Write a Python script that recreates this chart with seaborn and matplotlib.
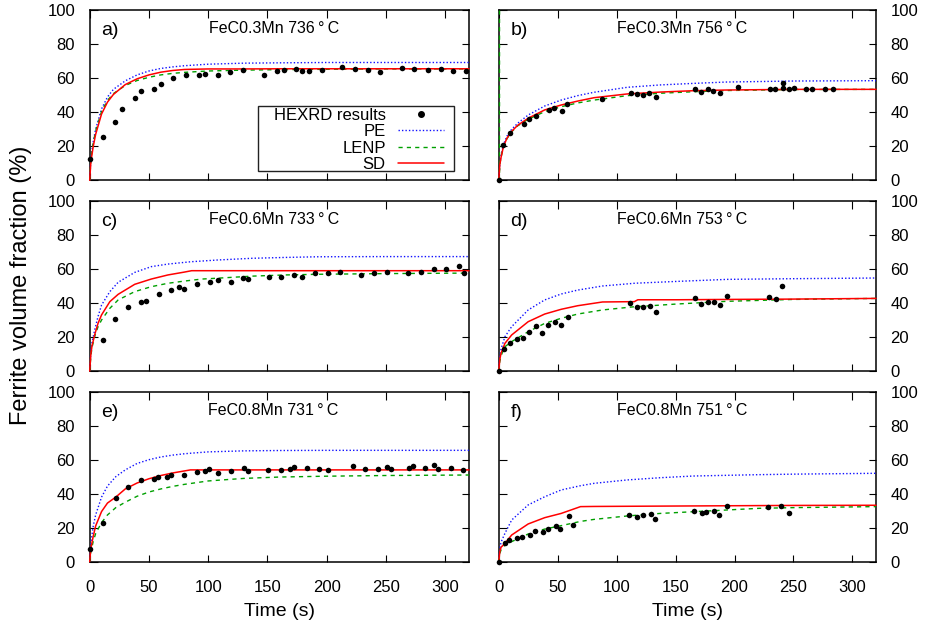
import numpy as np
import pandas as pd
import matplotlib
matplotlib.use("Agg")
import matplotlib.pyplot as plt
import seaborn as sns
from matplotlib.lines import Line2D
from matplotlib.patches import Rectangle

# ---------------- data ----------------
panel_labels = ["a)", "b)", "c)", "d)", "e)", "f)"]
panel_titles = ["FeC0.3Mn 736\u2009°\u2009C", "FeC0.3Mn 756\u2009°\u2009C",
                "FeC0.6Mn 733\u2009°\u2009C", "FeC0.6Mn 753\u2009°\u2009C",
                "FeC0.8Mn 731\u2009°\u2009C", "FeC0.8Mn 751\u2009°\u2009C"]
series_names = ["HEXRD results", "PE", "LENP", "SD"]
x_ticks = [0, 50, 100, 150, 200, 250, 300]
y_ticks = [0, 20, 40, 60, 80, 100]

# HEXRD measured points
a_t = [0, 11, 21.6, 27.5, 38.2, 43.3, 54, 60.1, 70.5, 81.2, 92.2, 97.2, 107.9, 118.6, 129.5, 147,
       157.7, 163.6, 174, 179.3, 184.9, 195.6, 213, 223.7, 234.4, 245, 263.6, 273.7, 285.5, 296.2,
       306.9, 317.3]
a_v = [12.5, 25.5, 34.1, 41.8, 48.2, 52.5, 53.5, 56.8, 60, 61.8, 62, 62.3, 62.1, 63.9, 64.7, 62.1,
       64.5, 64.9, 65.5, 64.3, 64.5, 64.7, 66.5, 65.3, 65.1, 63.9, 66.1, 65.7, 65.1, 65.3, 64.2, 64.4]
b_t = [0, 3.9, 9.8, 21.1, 25.3, 32, 42.7, 47.2, 53.4, 58.2, 87.4, 112.1, 116.9, 122.8, 127.6, 133.7,
       166.4, 171.2, 177.3, 181.5, 188, 202.6, 229.9, 234.4, 240.8, 240.8, 246.5, 250.7, 261, 266.1,
       276.6, 283.6]
b_v = [0, 20.9, 28, 33.3, 36.2, 38, 41.4, 42.7, 40.8, 44.7, 47.8, 51.5, 50.6, 50.4, 51.2, 49.2,
       53.5, 51.9, 53.5, 52.3, 51.4, 54.7, 53.5, 53.7, 57.4, 54.5, 53.5, 54.5, 53.5, 53.7, 53.5, 53.5]
c_t = [11, 21.6, 32.3, 43.3, 47.2, 58.2, 68.8, 75.6, 79.8, 90.8, 101.4, 108.2, 118.9, 129.5, 133.7,
       150.9, 161.6, 172.5, 179.3, 190, 200.7, 211.3, 228.8, 239.5, 250.4, 268.4, 279.6, 290.3, 301,
       311.6, 315.9]
c_v = [18.2, 30.4, 37.6, 40.8, 40.9, 45.5, 47.8, 49.6, 48, 51.4, 52.2, 53.5, 52.4, 54.7, 54.3,
       55.3, 55.5, 56.7, 55.1, 57.5, 57.9, 58.2, 56.5, 57.5, 58.2, 57.8, 58.1, 59.8, 59.8, 61.6, 57.6]
d_t = [0, 4.5, 9.5, 15.2, 20.2, 25.8, 31.5, 37.1, 42.2, 47.7, 53.1, 58.7, 111.6, 117.5, 122.5, 128.2,
       133.2, 166.1, 172, 177.1, 182.4, 187.7, 193.3, 229.6, 235.2, 240.6]
d_v = [0, 12.7, 16.5, 19, 19.2, 23, 26.7, 22.6, 27.1, 28.6, 27.1, 31.6, 40.2, 37.6, 37.6, 38,
       34.9, 42.7, 39.4, 40.8, 40.4, 38.6, 44.1, 43.5, 42.5, 50]
e_t = [0, 11.5, 21.9, 32.6, 43.5, 54.2, 57.9, 64.9, 68.5, 79.3, 90.2, 97.2, 100.9, 108.5, 119.1,
       129.8, 133.5, 150.6, 161.3, 168.9, 172.3, 183, 193.6, 201.2, 221.8, 232.4, 243.1, 250.7,
       254.3, 269.2, 272.6, 283.3, 290.6, 294, 304.9, 315.3]
e_v = [7.5, 22.9, 37.6, 44, 47.9, 48.8, 50, 50, 50.8, 51.2, 52.9, 53.1, 54.3, 52.4, 53.1,
       55.3, 53.5, 53.9, 53.9, 54.5, 55.5, 55.3, 54.5, 53.9, 56.1, 54.7, 54.3, 55.5,
       54.3, 55.1, 56.4, 55, 57, 54.4, 55, 54.2]
f_t = [0, 5.3, 9, 15.4, 19.6, 26.7, 30.6, 37.6, 41.8, 48.3, 52.3, 59.3, 63.2, 110.7, 117.7, 122.3,
       129, 132.6, 165.5, 172.5, 176.2, 183, 186.8, 193.9, 228.8, 239.2, 246.5]
f_v = [0, 10.8, 12.8, 14.1, 14.3, 15.5, 18.1, 17.6, 19.2, 21, 19.2, 27.1, 21.6, 27.5, 26.5, 27.6,
       28.1, 25.3, 29.8, 28.6, 29, 30, 27.5, 32.9, 32.2, 32.9, 28.6]

# Model curves (time grid per panel, then PE / LENP / SD values)
a_grid = [0, 1, 3, 5, 10, 15, 20, 30, 40, 50, 60, 70, 80, 100, 130, 160, 200, 250, 320]
a_pe = [0, 13, 23, 30, 42, 49, 53.5, 58.5, 62, 64.3, 65.8, 66.7, 67.4, 68.3, 68.9, 69.1, 69.3, 69.3, 69.3]
a_lenp = [0, 12.5, 22, 29, 40.5, 47, 51, 55.8, 58.7, 60.6, 62, 62.9, 63.5, 64.3, 64.8, 65.1, 65.3, 65.5, 65.5]
a_sd = [0, 11, 20, 27, 39, 46, 50.5, 56.3, 59.7, 62, 63.6, 64.6, 65.2, 65.5, 65.5, 65.6, 65.6, 65.6, 65.6]

b_grid = [0, 1, 2, 4, 7, 11, 16, 25, 39, 53, 67, 81, 109, 137, 165, 193, 250, 320]
b_pe = [0, 10, 14.5, 21, 26, 30, 33.5, 38.4, 43.7, 47.2, 49.8, 51.8, 54.7, 56.1, 57.0, 57.8, 58.4, 58.6]
b_lenp = [0, 9.5, 13.5, 19.5, 24.5, 28.5, 32, 35.9, 40.4, 43.3, 45.5, 47.2, 49.8, 51.2, 52.1, 52.8, 53.4, 53.5]
b_sd = [0, 9.5, 13.5, 19.8, 24.8, 28.8, 32.3, 36.5, 41.4, 44.3, 46.6, 48.6, 50.8, 51.9, 52.7, 53.1, 53.5, 53.5]
b_lenp_lead_t = [0]
b_lenp_lead_v = [100]

c_grid = [0, 1, 2, 4.5, 7, 10, 17, 24, 38, 52, 66, 80, 86, 95, 108, 137, 165, 193, 250, 320]
c_pe = [0, 12, 17, 25, 32, 38.8, 46.7, 52.2, 58, 61.4, 62.9, 63.9, 64.3, 64.7, 65.3, 66.3, 66.8, 67.2, 67.3, 67.3]
c_lenp = [0, 9, 14, 21, 26, 30, 36.9, 41.8, 46.7, 49.6, 51.6, 52.9, 53.4, 54.1, 54.6, 55.8, 56.5, 56.9, 57.3, 57.6]
c_sd = [0, 10, 15, 22, 28, 33, 40.8, 45.1, 51, 54.1, 56.5, 58.2, 59, 59, 59, 59, 59, 59, 59, 59]

d_grid = [0, 1, 2, 5.3, 11, 25, 39, 53, 67, 88, 115, 118, 151, 194, 250, 320]
d_pe = [0, 9, 13, 20.2, 26.1, 35.9, 41.8, 45.3, 47.6, 50, 51.6, 51.7, 52.7, 53.9, 54.3, 54.7]
d_lenp = [0, 6, 9, 14.3, 17.3, 23.1, 28, 31, 33.5, 35.9, 37.8, 37.9, 39.4, 41, 42.1, 42.7]
d_sd = [0, 7, 10.5, 16.3, 21.2, 29, 33.5, 36.3, 38.4, 40.6, 40.8, 41.9, 41.9, 42.1, 42.3, 42.7]

e_grid = [0, 1, 3, 5, 10, 15, 22, 30, 40, 50, 60, 70, 80, 85, 100, 130, 160, 200, 250, 320]
e_pe = [0, 11, 21, 27.5, 38, 44.5, 50, 54, 57.8, 60, 61.6, 62.7, 63.5, 63.8, 64.6, 65.2, 65.4, 65.5, 65.5, 65.5]
e_lenp = [0, 6, 12, 16.5, 23, 27.5, 31.8, 35, 38.5, 41, 42.8, 44.3, 45.5, 46, 47.5, 49, 49.8, 50.3, 50.7, 51]
e_sd = [0, 8, 15, 21, 29.5, 34.5, 38, 42.8, 46.3, 48.8, 50.7, 52.2, 53.4, 54, 54, 54, 54, 54, 54, 54]

f_grid = [0, 1, 2, 5.3, 11, 25, 39, 53, 69.4, 81, 109, 137, 165, 221, 250, 320]
f_pe = [0, 8, 11.5, 16.7, 24.5, 33.4, 38.2, 42.2, 44.7, 46.1, 48.1, 49.4, 50.4, 51.2, 51.5, 52]
f_lenp = [0, 5, 7, 9.8, 11.8, 16.3, 19.2, 21.2, 23.7, 24.9, 26.9, 28.4, 29.4, 31.4, 31.8, 32.4]
f_sd = [0, 6, 8.5, 10.8, 15.7, 22.2, 25.9, 28.4, 32.4, 32.5, 32.6, 32.7, 32.8, 33, 33.1, 33.2]

# ---------------- style ----------------
sns.set_style("ticks")
plt.rcParams["font.family"] = ["Liberation Sans", "DejaVu Sans"]
for k in ["text.color", "axes.labelcolor", "xtick.color", "ytick.color", "axes.edgecolor"]:
    plt.rcParams[k] = "black"

PE_KW = dict(color="#1010ff", lw=1.0, linestyle=(0, (1, 1.5)))
LENP_KW = dict(color="#00a000", lw=1.0, linestyle=(0, (3, 3)))
SD_KW = dict(color="#ff0000", lw=1.1, linestyle="-")

fig = plt.figure(figsize=(9.32, 6.26), dpi=100)

col_x = [89.7 / 932, 498.7 / 932]
col_w = [(469 - 89.7) / 932, (876 - 498.7) / 932]
row_y = [1 - 180.3 / 626, 1 - 371 / 626, 1 - 561.7 / 626]
row_h = 170 / 626

pts = [(a_t, a_v), (b_t, b_v), (c_t, c_v), (d_t, d_v), (e_t, e_v), (f_t, f_v)]
curves = [(a_grid, a_pe, a_lenp, a_sd), (b_grid, b_pe, b_lenp, b_sd),
          (c_grid, c_pe, c_lenp, c_sd), (d_grid, d_pe, d_lenp, d_sd),
          (e_grid, e_pe, e_lenp, e_sd), (f_grid, f_pe, f_lenp, f_sd)]

axes = []
for i in range(6):
    r, c = divmod(i, 2)
    ax = fig.add_axes([col_x[c], row_y[r], col_w[c], row_h])
    axes.append(ax)
    grid, pe, lenp, sd = curves[i]
    if i == 1:
        # vertical green dashes on the left border of panel b
        sns.lineplot(x=b_lenp_lead_t + grid[:1], y=b_lenp_lead_v + lenp[:1], ax=ax,
                     estimator=None, sort=False, zorder=3, clip_on=False, **LENP_KW)
    sns.lineplot(x=grid, y=pe, ax=ax, estimator=None, sort=False, zorder=3, clip_on=False, **PE_KW)
    sns.lineplot(x=grid, y=lenp, ax=ax, estimator=None, sort=False, zorder=3, clip_on=False, **LENP_KW)
    sns.lineplot(x=grid, y=sd, ax=ax, estimator=None, sort=False, zorder=3, clip_on=False, **SD_KW)
    df = pd.DataFrame({"t": pts[i][0], "v": pts[i][1]})
    sns.scatterplot(data=df, x="t", y="v", ax=ax, color="black", s=16, linewidth=0,
                    zorder=4, clip_on=False, legend=False)

    ax.set_xlim(0, 320)
    ax.set_ylim(0, 100)
    ax.set_xticks(x_ticks)
    ax.set_yticks(y_ticks)
    ax.set_xlabel("")
    ax.set_ylabel("")
    for sp in ax.spines.values():
        sp.set_visible(True)
        sp.set_linewidth(1.1)
        sp.set_color("black")
    ax.tick_params(direction="in", length=5.4, width=0.8, top=True, right=True,
                   labelsize=12, bottom=True, left=True)
    ax.tick_params(axis="x", pad=13, labelbottom=(r == 2))
    if c == 0:
        ax.tick_params(axis="y", pad=10.5, labelleft=True, labelright=False)
    else:
        ax.tick_params(axis="y", pad=10.5, labelleft=False, labelright=True)
    if r == 2:
        ax.set_xlabel("Time (s)", fontsize=14, labelpad=6)

    ax.text(0.031, 0.879, panel_labels[i], transform=ax.transAxes, fontsize=14,
            ha="left", va="center")
    ax.text(0.485, 0.865, panel_titles[i], transform=ax.transAxes, fontsize=11.5,
            ha="center", va="baseline")

# legend in panel a
ax = axes[0]
handles = [Line2D([], [], color="black", marker="o", markersize=4, linestyle="none"),
           Line2D([], [], **PE_KW), Line2D([], [], **LENP_KW), Line2D([], [], **SD_KW)]
leg = ax.legend(handles, series_names, loc="center right", bbox_to_anchor=(0.935, 0.238),
                frameon=False, markerfirst=False, borderpad=0, borderaxespad=0,
                handlelength=2.8, handletextpad=0.72, labelspacing=0.08, fontsize=12)
ax.add_patch(Rectangle((0.4445, 0.052), 0.9613 - 0.4445, 0.435 - 0.052, transform=ax.transAxes,
                       fill=False, edgecolor="#222222", lw=1.0, zorder=5))

fig.text(0.0225, 0.545, "Ferrite volume fraction (%)", rotation=90, fontsize=17,
         ha="center", va="center")

fig.savefig("out.png", dpi=100)
